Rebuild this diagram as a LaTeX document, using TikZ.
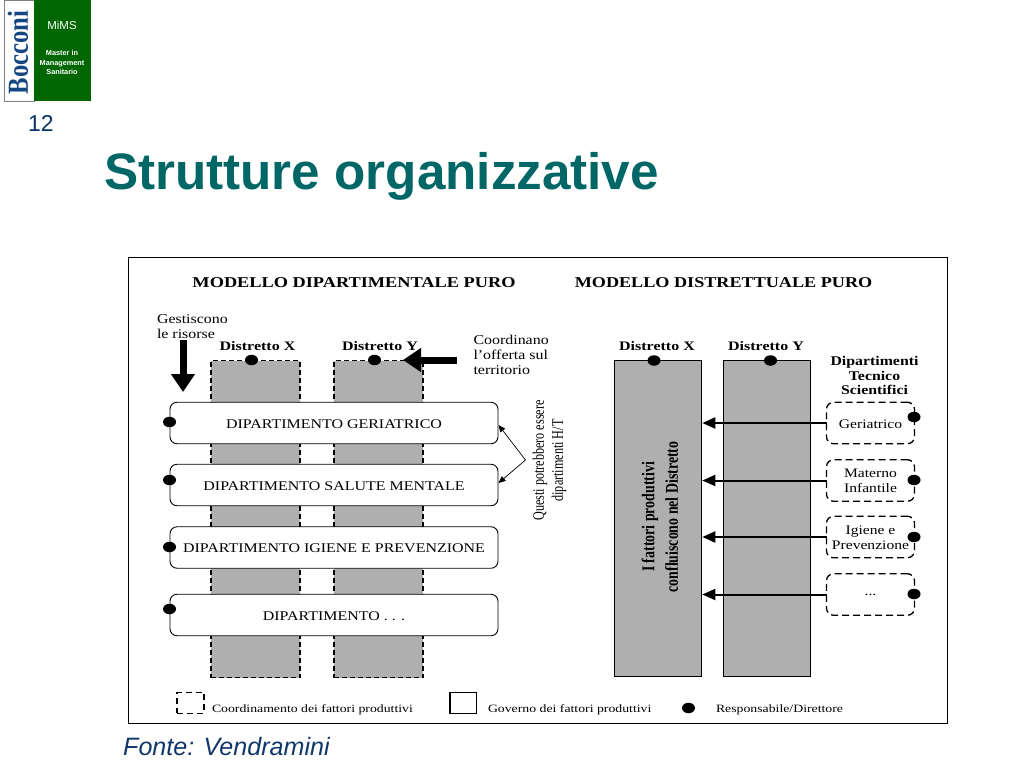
\documentclass[tikz,border=0pt]{standalone}
\usepackage{fontspec}
\setmainfont{Liberation Serif}
\newfontfamily\headfont{Liberation Sans}
\usetikzlibrary{arrows.meta,shapes.geometric}
\definecolor{tealtitle}{RGB}{0,102,102}
\definecolor{mimsgreen}{RGB}{0,102,0}
\definecolor{fontecolor}{RGB}{15,55,105}
\definecolor{navynum}{RGB}{10,50,100}
\definecolor{bocconiblue}{RGB}{20,70,130}
\definecolor{colgray}{RGB}{175,175,175}
\newcommand{\wtext}[1]{\raisebox{-0.8pt}[\height][\depth]{\scalebox{1.2}[1]{#1}}}
\tikzset{
  figtext/.style={font=\fontsize{#1}{15}\selectfont, inner sep=0pt, outer sep=0pt, align=center},
  colcoord/.style={draw=black, fill=colgray, line width=1.4pt, dash pattern=on 5pt off 3pt, inner sep=0pt, outer sep=0pt},
  colgov/.style={draw=black, fill=colgray, line width=1pt, inner sep=0pt, outer sep=0pt},
  depbox/.style={draw=black, fill=white, line width=0.9pt, rounded corners=7pt, minimum width=328pt, minimum height=41.5pt, inner sep=0pt, outer sep=0pt, font=\fontsize{13.3}{15}\selectfont},
  dtsbox/.style={draw=black, fill=white, line width=1.3pt, dash pattern=on 7pt off 4pt, rounded corners=7pt, minimum width=88pt, minimum height=41.5pt, inner sep=0pt, outer sep=0pt, align=center, font=\fontsize{13}{15}\selectfont},
  respdot/.style={draw=none, fill=black, ellipse, minimum width=13pt, minimum height=10.5pt, inner sep=0pt},
  bigarrow/.style={line width=7pt, -{Triangle[length=18pt,width=23pt]}},
  midarrow/.style={line width=2pt, -{Triangle[length=13pt,width=11pt]}, shorten >=1pt},
  thinarrow/.style={line width=0.7pt, -{Triangle[length=7pt,width=6pt]}}
}
\begin{document}
\begin{tikzpicture}[x=1pt, y=-1pt]
  \useasboundingbox (0,0) rectangle (1024,768);

  % Logo
  \node[draw=gray, fill=white, line width=0.6pt, minimum width=30pt, minimum height=101pt, inner sep=0pt] (logoWhite) at (19,50.5) {};
  \node[fill=mimsgreen, minimum width=57pt, minimum height=101pt, inner sep=0pt] (logoGreen) at (62.5,50.5) {};
  \node[rotate=90, xscale=0.85, text=bocconiblue, inner sep=0pt, font=\fontsize{29}{29}\selectfont\bfseries] (bocconi) at (18,52.5) {Bocconi};
  \node[text=white, inner sep=0pt, font=\headfont\fontsize{11.5}{12}\selectfont] (mims) at (62,25) {MiMS};
  \node[text=white, inner sep=0pt, align=center, font=\headfont\bfseries\fontsize{7.3}{9.5}\selectfont] (master) at (62,62.5) {Master in\\Management\\Sanitario};

  % Slide number, title, source
  \node[text=navynum, inner sep=0pt, font=\headfont\fontsize{23}{23}\selectfont] (pagenum) at (41,123) {12};
  \node[anchor=base west, text=tealtitle, inner sep=0pt, font=\headfont\bfseries\fontsize{51.2}{52}\selectfont] (title) at (104,189) {Strutture organizzative};
  \node[anchor=base west, text=fontecolor, inner sep=0pt, font=\headfont\itshape\fontsize{25.1}{27}\selectfont] (fonte) at (123,755) {Fonte: Vendramini};

  % Frame
  \node[draw=black, line width=0.8pt, minimum width=819pt, minimum height=466pt, inner sep=0pt] (frame) at (537.5,490) {};

  % Headings
  \node[figtext=15, xscale=1.22, font=\fontsize{15}{15}\selectfont\bfseries] (headDip) at (354,283) {MODELLO DIPARTIMENTALE PURO};
  \node[figtext=15, xscale=1.21, font=\fontsize{15}{15}\selectfont\bfseries] (headDis) at (723.5,283) {MODELLO DISTRETTUALE PURO};

  % Left model: district columns
  \node[colcoord, minimum width=89pt, minimum height=317pt] (colX) at (255.5,519) {};
  \node[colcoord, minimum width=89pt, minimum height=317pt] (colY) at (378.5,519) {};
  \node[figtext=13, xscale=1.23, font=\fontsize{13}{15}\selectfont\bfseries] (labX) at (257.5,346.5) {Distretto X};
  \node[figtext=13, xscale=1.23, font=\fontsize{13}{15}\selectfont\bfseries] (labY) at (380,346.5) {Distretto Y};
  \node[respdot] (dotX) at (251.5,360) {};
  \node[respdot] (dotY) at (374.5,360) {};

  % Left model: departments
  \node[depbox] (depGer) at (334,423) {\wtext{DIPARTIMENTO GERIATRICO}};
  \node[depbox] (depMen) at (334,485) {\wtext{DIPARTIMENTO SALUTE MENTALE}};
  \node[depbox] (depIgi) at (334,547.5) {\wtext{DIPARTIMENTO IGIENE E PREVENZIONE}};
  \node[depbox] (depAlt) at (334,615) {\wtext{DIPARTIMENTO . . .}};
  \node[respdot] (dotGer) at (169.5,422) {};
  \node[respdot] (dotMen) at (169.5,480) {};
  \node[respdot] (dotIgi) at (169.5,547) {};
  \node[respdot] (dotAlt) at (169.5,609) {};

  % Left model: notes and arrows
  \node[figtext=13.5, xscale=1.18, align=left, anchor=north west] (noteRis) at (157,314.5) {Gestiscono\\le risorse};
  \node[figtext=13.5, xscale=1.18, align=left, anchor=north west] (noteOff) at (473.5,335.5) {Coordinano\\l’offerta sul\\territorio};
  \coordinate (risStart) at (183,340);
  \coordinate (risEnd) at (183,392);
  \coordinate (offStart) at (457,360);
  \coordinate (offEnd) at (403,360);
  \draw[bigarrow] (risStart) -- (risEnd);
  \draw[bigarrow] (offStart) -- (offEnd);
  \node[figtext=16, rotate=90, xscale=0.76] (noteHT) at (549.5,460.5) {Questi potrebbero essere\\[4pt]dipartimenti H/T};
  \coordinate (braceTip) at (525.5,460);
  \coordinate (braceUp) at (498.5,425);
  \coordinate (braceDown) at (498.5,483);
  \draw[thinarrow] (braceTip) -- (braceUp);
  \draw[thinarrow] (braceTip) -- (braceDown);

  % Right model: district columns
  \node[colgov, minimum width=87pt, minimum height=316pt] (colXr) at (657.8,518.5) {};
  \node[colgov, minimum width=87pt, minimum height=316pt] (colYr) at (767,518.5) {};
  \node[figtext=13, xscale=1.23, font=\fontsize{13}{15}\selectfont\bfseries] (labXr) at (657,346.5) {Distretto X};
  \node[figtext=13, xscale=1.23, font=\fontsize{13}{15}\selectfont\bfseries] (labYr) at (766,346.5) {Distretto Y};
  \node[respdot] (dotXr) at (654,360.5) {};
  \node[respdot] (dotYr) at (770.5,360.5) {};
  \node[figtext=18, rotate=90, xscale=0.77, font=\fontsize{18}{15}\selectfont\bfseries] (noteFat) at (660,517) {I fattori produttivi\\[6pt]confluiscono nel Distretto};

  % Right model: technical departments
  \node[figtext=13.3, xscale=1.19, font=\fontsize{13.3}{14.7}\selectfont\bfseries] (headDts) at (874.5,375.5) {Dipartimenti\\Tecnico\\Scientifici};
  \node[dtsbox] (dtsGer) at (870.5,423) {\wtext{Geriatrico}};
  \node[dtsbox] (dtsMat) at (870.5,480.5) {\wtext{Materno}\\\wtext{Infantile}};
  \node[dtsbox] (dtsIgi) at (870.5,537) {\wtext{Igiene e}\\\wtext{Prevenzione}};
  \node[dtsbox] (dtsAlt) at (870.5,594.5) {\wtext{...}};
  \node[respdot] (dotGerR) at (914,417) {};
  \node[respdot] (dotMatR) at (914,480) {};
  \node[respdot] (dotIgiR) at (914,537) {};
  \node[respdot] (dotAltR) at (914,594) {};
  \draw[midarrow] (dtsGer.west) -- (colXr.east |- dtsGer.west);
  \draw[midarrow] (dtsMat.west) -- (colXr.east |- dtsMat.west);
  \draw[midarrow] (dtsIgi.west) -- (colXr.east |- dtsIgi.west);
  \draw[midarrow] (dtsAlt.west) -- (colXr.east |- dtsAlt.west);

  % Legend
  \node[draw=black, line width=1.2pt, dash pattern=on 6pt off 4pt, minimum width=27pt, minimum height=20.5pt, inner sep=0pt] (legCoord) at (190.5,703) {};
  \node[draw=black, line width=1.2pt, minimum width=26.5pt, minimum height=20.5pt, inner sep=0pt] (legGov) at (463.3,703) {};
  \node[respdot] (legDot) at (688.5,708) {};
  \node[figtext=11.2, xscale=1.23, anchor=west] (legCoordT) at (212,709.5) {Coordinamento dei fattori produttivi};
  \node[figtext=11.2, xscale=1.23, anchor=west] (legGovT) at (488,709.5) {Governo dei fattori produttivi};
  \node[figtext=11.2, xscale=1.23, anchor=west] (legDotT) at (716,709.5) {Responsabile/Direttore};
\end{tikzpicture}
\end{document}
